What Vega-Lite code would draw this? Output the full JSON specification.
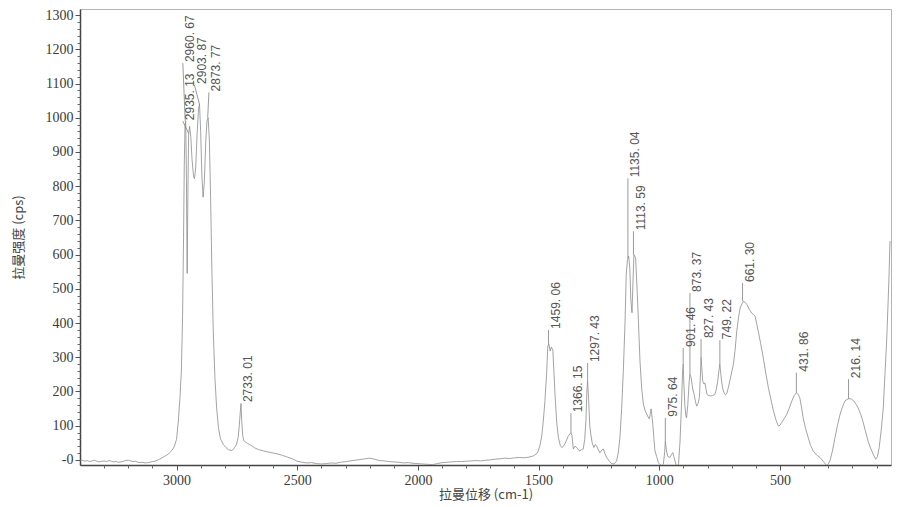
{
  "$schema": "https://vega.github.io/schema/vega-lite/v6.json",
  "width": 811,
  "height": 456,
  "autosize": {"type": "none"},
  "padding": {"left": 80, "top": 9, "right": 9, "bottom": 42},
  "background": "white",
  "config": {
    "view": {"stroke": "#b5b5b5", "strokeWidth": 1},
    "axis": {"grid": false, "labelFont": "Liberation Serif, DejaVu Serif, serif", "labelFontSize": 14, "labelColor": "#3a3a3a", "tickColor": "#555", "domainColor": "#444", "domainWidth": 1.5, "titleFont": "Noto Sans CJK SC", "titleFontSize": 13, "titleColor": "#444", "titleFontWeight": "normal"}
  },
  "datasets": {
    "spectrum": [
      {"w":3400,"i":-3},{"w":3390,"i":-1},{"w":3380,"i":-4},{"w":3370,"i":-2},{"w":3360,"i":-5},{"w":3350,"i":-3},{"w":3340,"i":-1},{"w":3330,"i":-4},{"w":3320,"i":-6},{"w":3310,"i":-4},{"w":3300,"i":-3},{"w":3290,"i":-5},{"w":3280,"i":-2},{"w":3270,"i":-4},{"w":3260,"i":-6},{"w":3250,"i":-5},{"w":3240,"i":-7},{"w":3230,"i":-6},{"w":3220,"i":-4},{"w":3210,"i":-2},{"w":3200,"i":-1},{"w":3190,"i":-3},{"w":3180,"i":-5},{"w":3170,"i":-4},{"w":3160,"i":-7},{"w":3150,"i":-8},{"w":3140,"i":-7},{"w":3130,"i":-9},{"w":3120,"i":-8},{"w":3110,"i":-7},{"w":3100,"i":-5},{"w":3090,"i":-4},{"w":3080,"i":-1},{"w":3070,"i":2},{"w":3060,"i":6},{"w":3050,"i":10},{"w":3040,"i":14},{"w":3030,"i":20},{"w":3020,"i":27},{"w":3010,"i":38},{"w":3000,"i":60},{"w":2993,"i":110},{"w":2986,"i":180},{"w":2980,"i":260},{"w":2975,"i":420},{"w":2971,"i":650},{"w":2968,"i":860},{"w":2965,"i":975},{"w":2962,"i":990},{"w":2959,"i":820},{"w":2956,"i":545},{"w":2953,"i":780},{"w":2950,"i":950},{"w":2946,"i":975},{"w":2941,"i":945},{"w":2936,"i":880},{"w":2930,"i":832},{"w":2926,"i":822},{"w":2921,"i":850},{"w":2915,"i":950},{"w":2909,"i":1025},{"w":2905,"i":1040},{"w":2900,"i":960},{"w":2895,"i":830},{"w":2890,"i":768},{"w":2885,"i":810},{"w":2879,"i":930},{"w":2874,"i":990},{"w":2869,"i":1000},{"w":2864,"i":935},{"w":2859,"i":770},{"w":2854,"i":570},{"w":2848,"i":376},{"w":2841,"i":240},{"w":2834,"i":152},{"w":2826,"i":92},{"w":2818,"i":62},{"w":2807,"i":46},{"w":2795,"i":36},{"w":2785,"i":30},{"w":2772,"i":27},{"w":2762,"i":33},{"w":2752,"i":45},{"w":2745,"i":65},{"w":2740,"i":100},{"w":2736,"i":140},{"w":2733,"i":163},{"w":2730,"i":115},{"w":2726,"i":72},{"w":2721,"i":56},{"w":2714,"i":52},{"w":2705,"i":48},{"w":2696,"i":44},{"w":2688,"i":41},{"w":2676,"i":35},{"w":2660,"i":30},{"w":2640,"i":26},{"w":2620,"i":23},{"w":2600,"i":20},{"w":2580,"i":17},{"w":2560,"i":13},{"w":2540,"i":8},{"w":2520,"i":3},{"w":2500,"i":-4},{"w":2480,"i":-7},{"w":2460,"i":-9},{"w":2440,"i":-8},{"w":2420,"i":-11},{"w":2400,"i":-12},{"w":2380,"i":-11},{"w":2360,"i":-9},{"w":2340,"i":-10},{"w":2320,"i":-7},{"w":2300,"i":-5},{"w":2280,"i":-3},{"w":2260,"i":-1},{"w":2240,"i":1},{"w":2220,"i":3},{"w":2200,"i":5},{"w":2180,"i":2},{"w":2160,"i":-2},{"w":2140,"i":-3},{"w":2120,"i":-5},{"w":2100,"i":-6},{"w":2080,"i":-7},{"w":2060,"i":-9},{"w":2040,"i":-8},{"w":2020,"i":-10},{"w":2000,"i":-11},{"w":1980,"i":-12},{"w":1960,"i":-13},{"w":1940,"i":-14},{"w":1920,"i":-11},{"w":1900,"i":-8},{"w":1880,"i":-7},{"w":1860,"i":-6},{"w":1840,"i":-5},{"w":1820,"i":-5},{"w":1800,"i":-4},{"w":1780,"i":-3},{"w":1760,"i":-2},{"w":1740,"i":-3},{"w":1720,"i":-1},{"w":1700,"i":0},{"w":1680,"i":2},{"w":1660,"i":3},{"w":1640,"i":5},{"w":1620,"i":4},{"w":1600,"i":6},{"w":1580,"i":7},{"w":1560,"i":6},{"w":1540,"i":8},{"w":1520,"i":12},{"w":1505,"i":20},{"w":1495,"i":40},{"w":1487,"i":70},{"w":1481,"i":110},{"w":1474,"i":170},{"w":1467,"i":250},{"w":1462,"i":330},{"w":1458,"i":340},{"w":1452,"i":318},{"w":1447,"i":330},{"w":1441,"i":320},{"w":1436,"i":250},{"w":1432,"i":190},{"w":1425,"i":110},{"w":1418,"i":65},{"w":1410,"i":42},{"w":1404,"i":36},{"w":1397,"i":40},{"w":1391,"i":47},{"w":1384,"i":58},{"w":1377,"i":70},{"w":1370,"i":76},{"w":1366,"i":80},{"w":1362,"i":72},{"w":1356,"i":32},{"w":1349,"i":40},{"w":1342,"i":36},{"w":1336,"i":30},{"w":1329,"i":26},{"w":1322,"i":30},{"w":1315,"i":32},{"w":1309,"i":60},{"w":1304,"i":114},{"w":1300,"i":200},{"w":1297,"i":230},{"w":1293,"i":180},{"w":1288,"i":100},{"w":1284,"i":76},{"w":1278,"i":50},{"w":1271,"i":36},{"w":1265,"i":45},{"w":1260,"i":41},{"w":1253,"i":30},{"w":1246,"i":21},{"w":1239,"i":28},{"w":1232,"i":32},{"w":1225,"i":18},{"w":1218,"i":7},{"w":1207,"i":-4},{"w":1197,"i":-11},{"w":1187,"i":-12},{"w":1177,"i":-3},{"w":1170,"i":20},{"w":1163,"i":65},{"w":1156,"i":150},{"w":1149,"i":259},{"w":1142,"i":400},{"w":1137,"i":540},{"w":1132,"i":585},{"w":1127,"i":595},{"w":1122,"i":560},{"w":1118,"i":470},{"w":1113,"i":430},{"w":1109,"i":520},{"w":1105,"i":600},{"w":1098,"i":590},{"w":1091,"i":484},{"w":1085,"i":380},{"w":1080,"i":289},{"w":1073,"i":210},{"w":1066,"i":163},{"w":1059,"i":145},{"w":1052,"i":134},{"w":1046,"i":125},{"w":1041,"i":120},{"w":1037,"i":135},{"w":1034,"i":149},{"w":1030,"i":125},{"w":1027,"i":105},{"w":1022,"i":60},{"w":1018,"i":26},{"w":1011,"i":10},{"w":1004,"i":-8},{"w":997,"i":-14},{"w":990,"i":-17},{"w":983,"i":-12},{"w":978,"i":20},{"w":975,"i":55},{"w":971,"i":30},{"w":965,"i":10},{"w":956,"i":7},{"w":950,"i":15},{"w":944,"i":21},{"w":940,"i":10},{"w":935,"i":-3},{"w":930,"i":-15},{"w":925,"i":-25},{"w":920,"i":-10},{"w":914,"i":55},{"w":908,"i":160},{"w":904,"i":250},{"w":901,"i":280},{"w":898,"i":220},{"w":894,"i":160},{"w":890,"i":130},{"w":887,"i":123},{"w":882,"i":160},{"w":876,"i":230},{"w":873,"i":250},{"w":868,"i":240},{"w":862,"i":210},{"w":856,"i":192},{"w":850,"i":170},{"w":845,"i":157},{"w":839,"i":165},{"w":834,"i":182},{"w":830,"i":240},{"w":827,"i":300},{"w":824,"i":270},{"w":820,"i":230},{"w":815,"i":222},{"w":811,"i":225},{"w":806,"i":205},{"w":802,"i":191},{"w":795,"i":188},{"w":788,"i":187},{"w":779,"i":188},{"w":770,"i":191},{"w":764,"i":205},{"w":758,"i":230},{"w":753,"i":260},{"w":749,"i":280},{"w":745,"i":250},{"w":741,"i":225},{"w":736,"i":205},{"w":730,"i":193},{"w":725,"i":190},{"w":720,"i":195},{"w":714,"i":211},{"w":705,"i":240},{"w":693,"i":279},{"w":686,"i":320},{"w":679,"i":376},{"w":672,"i":415},{"w":665,"i":444},{"w":658,"i":456},{"w":651,"i":464},{"w":644,"i":460},{"w":637,"i":454},{"w":627,"i":440},{"w":617,"i":429},{"w":610,"i":425},{"w":603,"i":420},{"w":597,"i":400},{"w":590,"i":376},{"w":580,"i":340},{"w":569,"i":298},{"w":558,"i":250},{"w":548,"i":211},{"w":537,"i":175},{"w":527,"i":143},{"w":517,"i":118},{"w":507,"i":99},{"w":500,"i":101},{"w":493,"i":109},{"w":483,"i":120},{"w":472,"i":133},{"w":462,"i":150},{"w":451,"i":172},{"w":441,"i":188},{"w":432,"i":196},{"w":425,"i":192},{"w":418,"i":182},{"w":411,"i":155},{"w":404,"i":123},{"w":394,"i":92},{"w":383,"i":65},{"w":373,"i":42},{"w":362,"i":26},{"w":348,"i":14},{"w":334,"i":7},{"w":320,"i":-5},{"w":306,"i":-17},{"w":300,"i":-12},{"w":293,"i":-3},{"w":283,"i":25},{"w":272,"i":65},{"w":262,"i":100},{"w":251,"i":133},{"w":241,"i":155},{"w":231,"i":172},{"w":222,"i":177},{"w":214,"i":179},{"w":204,"i":178},{"w":194,"i":172},{"w":185,"i":163},{"w":176,"i":152},{"w":165,"i":132},{"w":155,"i":109},{"w":145,"i":82},{"w":135,"i":55},{"w":125,"i":35},{"w":114,"i":17},{"w":108,"i":8},{"w":103,"i":2},{"w":96,"i":10},{"w":89,"i":36},{"w":80,"i":90},{"w":72,"i":152},{"w":65,"i":250},{"w":58,"i":347},{"w":52,"i":460},{"w":48,"i":542},{"w":44,"i":640}
    ],
    "peaks": [
      {"label":"2960. 67","w":2964,"peak":990,"lx":2974,"ly":1160},
      {"label":"2935. 13","w":2950,"peak":955,"lx":2974,"ly":990},
      {"label":"2903. 87","w":2905,"peak":1040,"lx":2926,"ly":1096},
      {"label":"2873. 77","w":2871,"peak":1000,"lx":2866,"ly":1074},
      {"label":"2733. 01","w":2733,"peak":163,"lx":2733,"ly":166},
      {"label":"1459. 06","w":1459,"peak":340,"lx":1459,"ly":380},
      {"label":"1366. 15","w":1366,"peak":80,"lx":1366,"ly":136},
      {"label":"1297. 43","w":1297,"peak":230,"lx":1297,"ly":283},
      {"label":"1135. 04","w":1130,"peak":590,"lx":1130,"ly":823},
      {"label":"1113. 59","w":1107,"peak":600,"lx":1107,"ly":668},
      {"label":"975. 64","w":975,"peak":55,"lx":975,"ly":123},
      {"label":"901. 46","w":901,"peak":280,"lx":901,"ly":327},
      {"label":"873. 37","w":873,"peak":250,"lx":873,"ly":488},
      {"label":"827. 43","w":827,"peak":300,"lx":827,"ly":353},
      {"label":"749. 22","w":749,"peak":280,"lx":749,"ly":350},
      {"label":"661. 30","w":655,"peak":464,"lx":655,"ly":517},
      {"label":"431. 86","w":432,"peak":196,"lx":432,"ly":255},
      {"label":"216. 14","w":216,"peak":179,"lx":216,"ly":236}
    ]
  },
  "resolve": {"axis": {"x": "independent", "y": "independent"}},
  "layer": [
    {
      "data": {"name": "spectrum"},
      "mark": {"type": "line", "color": "#8c8c8c", "strokeWidth": 0.8, "clip": true},
      "encoding": {
        "x": {"field": "w", "type": "quantitative", "scale": {"domain": [40, 3400], "reverse": true, "nice": false, "zero": false},
              "axis": {"orient": "bottom", "title": "拉曼位移 (cm-1)", "values": [500, 1000, 1500, 2000, 2500, 3000], "format": "d", "labelFont": "Liberation Serif, DejaVu Serif, serif", "labelFontSize": 14, "tickSize": 5, "labelPadding": 3, "titlePadding": 1}},
        "y": {"field": "i", "type": "quantitative", "scale": {"domain": [-15, 1318], "nice": false, "zero": false},
              "axis": {"orient": "left", "title": "拉曼强度 (cps)", "values": [0, 100, 200, 300, 400, 500, 600, 700, 800, 900, 1000, 1100, 1200, 1300], "format": "d", "labelExpr": "datum.value == 0 ? '-0' : datum.label", "labelFont": "Liberation Serif, DejaVu Serif, serif", "labelFontSize": 14, "tickSize": 5, "labelPadding": 2, "titlePadding": 20}}
      }
    },
    {
      "data": {"name": "peaks"},
      "mark": {"type": "rule", "color": "#808080", "strokeWidth": 0.8},
      "encoding": {
        "x": {"field": "w", "type": "quantitative",
              "axis": {"orient": "bottom", "title": null, "labels": false, "domain": false, "tickSize": 3, "tickColor": "#666", "values": [100,200,300,400,600,700,800,900,1100,1200,1300,1400,1600,1700,1800,1900,2100,2200,2300,2400,2600,2700,2800,2900,3100,3200,3300]}},
        "x2": {"field": "lx"},
        "y": {"field": "peak", "type": "quantitative",
              "axis": {"orient": "left", "title": null, "labels": false, "domain": false, "tickSize": 3, "tickColor": "#666", "values": [20,40,60,80,120,140,160,180,220,240,260,280,320,340,360,380,420,440,460,480,520,540,560,580,620,640,660,680,720,740,760,780,820,840,860,880,920,940,960,980,1020,1040,1060,1080,1120,1140,1160,1180,1220,1240,1260,1280]}},
        "y2": {"field": "ly"}
      }
    },
    {
      "data": {"name": "peaks"},
      "mark": {"type": "text", "angle": 270, "align": "left", "baseline": "middle", "dy": 7.5, "dx": 1, "font": "Liberation Sans", "fontSize": 12, "color": "#555"},
      "encoding": {
        "x": {"field": "lx", "type": "quantitative", "axis": null},
        "y": {"field": "ly", "type": "quantitative", "axis": null},
        "text": {"field": "label"}
      }
    }
  ]
}
